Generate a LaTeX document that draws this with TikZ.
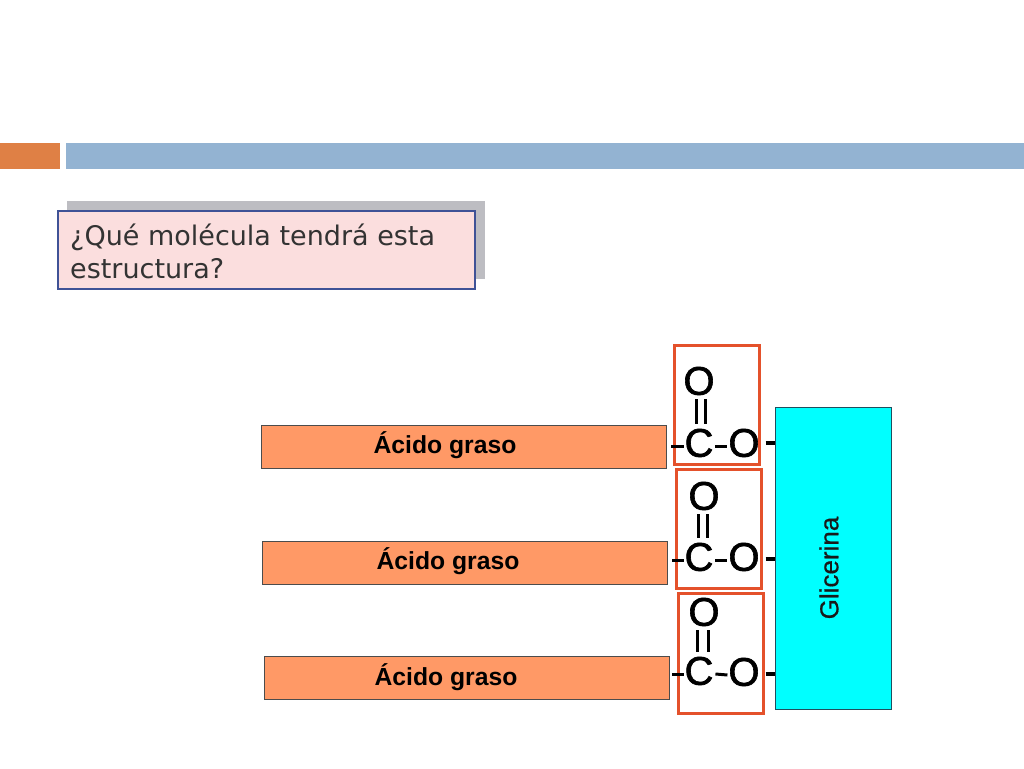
\documentclass[tikz,border=0pt]{standalone}
\usepackage{fontspec}
\setmainfont{Liberation Sans}
\newfontfamily\qfont{DejaVu Sans}
\newfontfamily\atomfont{Liberation Sans}[FakeBold=1.6]
\newfontfamily\glfont{Liberation Sans}[FakeBold=0.6]
\usetikzlibrary{calc}
\definecolor{hdrorange}{HTML}{DF8045}
\definecolor{hdrblue}{HTML}{93B3D2}
\definecolor{shadowgrey}{HTML}{BDBDC2}
\definecolor{pinkfill}{HTML}{FBDEDE}
\definecolor{qborder}{HTML}{3F5296}
\definecolor{barfill}{HTML}{FF9966}
\definecolor{redbox}{HTML}{E4512B}
\definecolor{glyc}{HTML}{00FFFF}
\definecolor{glycline}{HTML}{1F4F5F}
\tikzset{
  x=1pt,y=-1pt,
  rectnode/.style={anchor=north west,inner sep=0pt,outer sep=0pt},
  barbox/.style={rectnode,draw=black!70,line width=0.9pt,fill=barfill,minimum width=405pt,minimum height=43pt},
  barlabel/.style={font=\fontsize{24.7}{30}\selectfont\bfseries,text=black},
  groupbox/.style={rectnode,draw=redbox,line width=3pt,minimum width=85pt},
  atom/.style={inner sep=0pt,outer sep=0pt,font=\atomfont\fontsize{40}{40}\selectfont,text=black},
  bond/.style={draw=black,line width=3pt},
  link/.style={draw=black,line width=4.5pt},
}
\begin{document}
\begin{tikzpicture}
\useasboundingbox (0,0) rectangle (1024,768);
\fill[hdrorange] (0,143) rectangle (60,169);
\fill[hdrblue] (66,143) rectangle (1024,169);
\fill[shadowgrey] (67,201) rectangle (485,279);
\node[rectnode,draw=qborder,line width=1.5pt,fill=pinkfill,minimum width=417pt,minimum height=78pt] (q) at (58,211) {};
\node[anchor=west,inner sep=0pt,font=\qfont\fontsize{27}{33}\selectfont,text=black!80,align=left] (qt) at (70,251) {¿Qué molécula tendrá esta\\estructura?};

\node[rectnode,draw=glycline,line width=0.9pt,fill=glyc,minimum width=116pt,minimum height=302pt] (gl) at (775,407) {};
\node[font=\glfont\fontsize{26}{30}\selectfont,rotate=90,text=black!90] (gt) at (829,568) {Glicerina};

\node[barbox] (b1) at (261,425) {};
\node[barbox] (b2) at (262,541) {};
\node[barbox] (b3) at (264,656) {};
\node[barlabel] (t1) at (445,445) {Ácido graso};
\node[barlabel] (t2) at (448,561) {Ácido graso};
\node[barlabel] (t3) at (446,677) {Ácido graso};

\node[groupbox,minimum height=119pt] (g1) at (674.5,345) {};
\node[groupbox,minimum height=119pt] (g2) at (676,469) {};
\node[groupbox,minimum height=120pt] (g3) at (678.5,593) {};

\node[atom] (o1) at (699,381) {O};
\node[atom] (c1) at (699,443) {C};
\node[atom] (r1) at (744,443) {O};
\node[atom] (o2) at (704,496) {O};
\node[atom] (c2) at (699,557) {C};
\node[atom] (r2) at (744,557) {O};
\node[atom] (o3) at (704,612) {O};
\node[atom] (c3) at (699,671) {C};
\node[atom] (r3) at (744,672) {O};

% double bonds
\draw[bond] ($(o1.south)+(-3,4)$) -- ($(c1.north)+(-3,-5)$);
\draw[bond] ($(o1.south)+(6,4)$) -- ($(c1.north)+(6,-5)$);
\draw[bond] ($(o2.south)+(-6,4)$) -- ($(c2.north)+(-1,-5)$);
\draw[bond] ($(o2.south)+(3,4)$) -- ($(c2.north)+(8,-5)$);
\draw[bond] ($(o3.south)+(-7,4)$) -- ($(c3.north)+(-2,-5)$);
\draw[bond] ($(o3.south)+(4,4)$) -- ($(c3.north)+(9,-5)$);

% single bonds
\foreach \c/\r in {c1/r1,c2/r2,c3/r3}{
  \draw[bond] ($(\c.east)+(2,3)$) -- ($(\r.west)+(-1,3)$);
}
\draw[bond,shorten <=5pt,shorten >=1pt] ($(b1.east)+(0,-0.5)$) -- ($(b1.east -| c1.west)+(0,-0.5)$);
\draw[bond,shorten <=5pt,shorten >=1pt] ($(b2.east)+(0,-2)$) -- ($(b2.east -| c2.west)+(0,-2)$);
\draw[bond,shorten <=3pt,shorten >=1pt] ($(b3.east)+(0,-3)$) -- ($(b3.east -| c3.west)+(0,-3)$);
% links to glycerol
\draw[link] ($(r1.east)+(6,0)$) -- (r1.east -| gl.west);
\draw[link] ($(r2.east)+(6,2)$) -- ($(r2.east -| gl.west)+(0,2)$);
\draw[link] ($(r3.east)+(6,2)$) -- ($(r3.east -| gl.west)+(0,2)$);
\end{tikzpicture}
\end{document}
